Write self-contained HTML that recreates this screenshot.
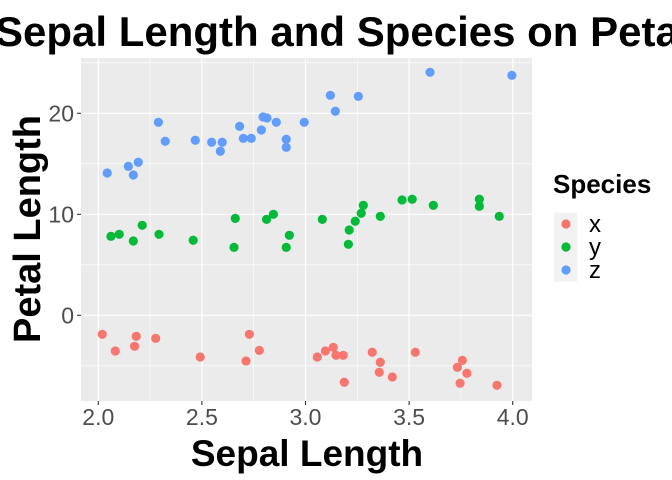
<!DOCTYPE html>
<html><head><meta charset="utf-8"><style>
body{margin:0;background:#fff;}
svg{display:block;font-family:"Liberation Sans",Arial,sans-serif;}
</style></head><body>
<svg id="chart" width="672" height="480">
<text x="-5" y="46" font-size="42" font-weight="bold" fill="#000">Sepal Length and Species on Petal Length</text>
<rect x="81" y="58" width="451" height="343" fill="#ebebeb"/>
<g id="grid"></g>
<g id="pts"></g>
<g id="axes"></g>
<text x="307" y="466" font-size="37" font-weight="bold" text-anchor="middle">Sepal Length</text>
<text transform="translate(40,229) rotate(-90)" font-size="38" font-weight="bold" text-anchor="middle">Petal Length</text>
<text x="553" y="193" font-size="26" font-weight="bold">Species</text>
<g id="legend"></g>
</svg>
<script>
const categories=["x","y","z"];
const colors=["#F8766D","#00BA38","#619CFF"];
const xTicks=[2.0,2.5,3.0,3.5,4.0];
const xTickLabels=["2.0","2.5","3.0","3.5","4.0"];
const yTicks=[0,10,20];
const yTickLabels=["0","10","20"];
const xMinor=[2.25,2.75,3.25,3.75];
const yMinor=[-5,5,15,25];
const xSepal=[2.019,2.082,2.175,2.183,2.277,2.492,2.729,2.713,2.777,3.057,3.096,3.134,3.147,3.182,3.187,3.322,3.361,3.356,3.419,3.530,3.733,3.757,3.779,3.746,3.924];
const xPetal=[-1.88,-3.53,-3.07,-2.08,-2.28,-4.13,-1.88,-4.52,-3.47,-4.13,-3.53,-3.17,-3.96,-3.96,-6.63,-3.66,-4.65,-5.64,-6.11,-3.66,-5.15,-4.46,-5.74,-6.73,-6.93];
const ySepal=[2.061,2.101,2.169,2.212,2.293,2.458,2.661,2.655,2.812,2.845,2.922,2.907,3.081,3.207,3.211,3.240,3.269,3.279,3.361,3.466,3.515,3.617,3.839,3.839,3.935];
const yPetal=[7.82,8.02,7.36,8.91,8.02,7.43,9.60,6.73,9.50,10.00,7.92,6.73,9.50,7.03,8.45,9.31,10.10,10.89,9.80,11.42,11.49,10.89,11.49,10.79,9.80];
const zSepal=[2.043,2.145,2.169,2.193,2.290,2.323,2.468,2.547,2.598,2.589,2.682,2.700,2.738,2.787,2.795,2.814,2.859,2.907,2.907,2.994,3.120,3.144,3.255,3.601,3.996];
const zPetal=[14.09,14.75,13.89,15.15,19.11,17.23,17.33,17.13,17.13,16.24,18.71,17.52,17.52,18.35,19.64,19.54,19.11,17.43,16.63,19.11,21.78,20.20,21.68,24.06,23.76];
const NS="http://www.w3.org/2000/svg";
const X=v=>98.3+(v-2)*207.2;
const Y=v=>315.3-v*10.1;
function mk(t,a,p){const e=document.createElementNS(NS,t);for(const k in a)e.setAttribute(k,a[k]);p.appendChild(e);return e;}
const grid=document.getElementById('grid'),axes=document.getElementById('axes'),pts=document.getElementById('pts'),leg=document.getElementById('legend');
xMinor.forEach(v=>{const l=mk('line',{x1:X(v),x2:X(v),y1:58,y2:401,stroke:'#fff','stroke-width':0.6},grid);

});
yMinor.forEach(v=>{const l=mk('line',{x1:81,x2:532,y1:Y(v),y2:Y(v),stroke:'#fff','stroke-width':0.6},grid);

});
xTicks.forEach((v,i)=>{const l=mk('line',{x1:X(v),x2:X(v),y1:58,y2:401,stroke:'#fff','stroke-width':1.2},grid);


const t=mk('line',{x1:X(v),x2:X(v),y1:401,y2:405,stroke:'#333','stroke-width':1.1},axes);


const tx=mk('text',{x:X(v),y:425,'font-size':23,fill:'#4d4d4d','text-anchor':'middle'},axes);tx.textContent=xTickLabels[i];

});
yTicks.forEach((v,i)=>{const l=mk('line',{x1:81,x2:532,y1:Y(v),y2:Y(v),stroke:'#fff','stroke-width':1.2},grid);


const t=mk('line',{x1:77,x2:81,y1:Y(v),y2:Y(v),stroke:'#333','stroke-width':1.1},axes);


const tx=mk('text',{x:74,y:Y(v)+8,'font-size':23,fill:'#4d4d4d','text-anchor':'end'},axes);tx.textContent=yTickLabels[i];

});
const series=[[xSepal,xPetal],[ySepal,yPetal],[zSepal,zPetal]];
series.forEach((s,k)=>{s[0].forEach((xv,i)=>{const c=mk('circle',{cx:X(xv),cy:Y(s[1][i]),r:4.6,fill:colors[k]},pts);

});});
categories.forEach((c,k)=>{const y=224+k*23;
const r=mk('rect',{x:554,y:y-11.5,width:23,height:23,fill:'#f2f2f2'},leg);


const d=mk('circle',{cx:566,cy:y,r:4.6,fill:colors[k]},leg);


const t=mk('text',{x:589,y:y+8,'font-size':24,fill:'#000'},leg);t.textContent=c;

});
</script>
</body></html>
